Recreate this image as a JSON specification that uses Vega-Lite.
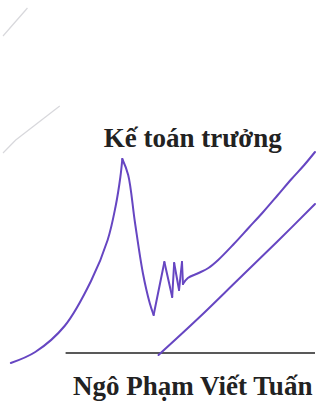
{
  "$schema": "https://vega.github.io/schema/vega-lite/v6.json",
  "autosize": {"type": "fit", "contains": "padding"},
  "width": 319,
  "height": 405,
  "padding": 0,
  "background": "#ffffff",
  "config": {"view": {"stroke": null}},
  "layer": [
    {
      "data": {"values": [
        {"s": "f1", "i": 0, "x": 0, "y": 36},
        {"s": "f1", "i": 1, "x": 25, "y": 8},
        {"s": "f2", "i": 0, "x": 0, "y": 153},
        {"s": "f2", "i": 1, "x": 13, "y": 140},
        {"s": "f2", "i": 2, "x": 58, "y": 106}
      ]},
      "mark": {"type": "line", "color": "#d8d8dc", "strokeWidth": 1.2},
      "encoding": {
        "x": {"field": "x", "type": "quantitative", "scale": {"domain": [0, 319], "nice": false, "zero": false}, "axis": null},
        "y": {"field": "y", "type": "quantitative", "scale": {"domain": [0, 405], "nice": false, "zero": false, "reverse": true}, "axis": null},
        "detail": {"field": "s"},
        "order": {"field": "i"}
      }
    },
    {
      "data": {"values": [
        {"i": 0, "x": 64, "y": 353},
        {"i": 1, "x": 319, "y": 353}
      ]},
      "mark": {"type": "line", "color": "#222222", "strokeWidth": 1.6},
      "encoding": {
        "x": {"field": "x", "type": "quantitative"},
        "y": {"field": "y", "type": "quantitative"},
        "order": {"field": "i"}
      }
    },
    {
      "data": {"values": [
        {"s": "a1", "i": 0, "x": 8, "y": 363},
        {"s": "a1", "i": 1, "x": 33, "y": 352},
        {"s": "a1", "i": 2, "x": 63, "y": 326},
        {"s": "a1", "i": 3, "x": 90, "y": 281},
        {"s": "a1", "i": 4, "x": 107, "y": 240},
        {"s": "a1", "i": 5, "x": 115, "y": 207},
        {"s": "a1", "i": 6, "x": 120, "y": 177},
        {"s": "a1", "i": 7, "x": 122, "y": 159},
        {"s": "a2", "i": 0, "x": 122, "y": 159},
        {"s": "a2", "i": 1, "x": 128, "y": 175},
        {"s": "a2", "i": 2, "x": 135, "y": 223},
        {"s": "a2", "i": 3, "x": 143, "y": 273},
        {"s": "a2", "i": 4, "x": 150, "y": 303},
        {"s": "a2", "i": 5, "x": 154, "y": 315},
        {"s": "z1", "i": 0, "x": 154, "y": 315},
        {"s": "z1", "i": 1, "x": 165, "y": 262},
        {"s": "z2", "i": 0, "x": 165, "y": 262},
        {"s": "z2", "i": 1, "x": 173, "y": 297},
        {"s": "z3", "i": 0, "x": 173, "y": 297},
        {"s": "z3", "i": 1, "x": 175, "y": 263},
        {"s": "z4", "i": 0, "x": 175, "y": 263},
        {"s": "z4", "i": 1, "x": 180, "y": 290},
        {"s": "z5", "i": 0, "x": 180, "y": 290},
        {"s": "z5", "i": 1, "x": 183, "y": 262},
        {"s": "z6", "i": 0, "x": 183, "y": 262},
        {"s": "z6", "i": 1, "x": 184, "y": 284},
        {"s": "a3", "i": 0, "x": 184, "y": 284},
        {"s": "a3", "i": 1, "x": 189, "y": 278},
        {"s": "a3", "i": 2, "x": 200, "y": 273},
        {"s": "a3", "i": 3, "x": 210, "y": 268},
        {"s": "a3", "i": 4, "x": 220, "y": 260},
        {"s": "a3", "i": 5, "x": 236, "y": 244},
        {"s": "a3", "i": 6, "x": 251, "y": 228},
        {"s": "a3", "i": 7, "x": 266, "y": 212},
        {"s": "a3", "i": 8, "x": 281, "y": 195},
        {"s": "a3", "i": 9, "x": 295, "y": 179},
        {"s": "a3", "i": 10, "x": 308, "y": 165},
        {"s": "a3", "i": 11, "x": 319, "y": 152},
        {"s": "b", "i": 0, "x": 159, "y": 355},
        {"s": "b", "i": 1, "x": 200, "y": 318},
        {"s": "b", "i": 2, "x": 240, "y": 280},
        {"s": "b", "i": 3, "x": 280, "y": 242},
        {"s": "b", "i": 4, "x": 319, "y": 204}
      ]},
      "mark": {"type": "line", "color": "#6646c2", "strokeWidth": 2, "interpolate": "catmull-rom", "strokeCap": "round", "strokeJoin": "round"},
      "encoding": {
        "x": {"field": "x", "type": "quantitative"},
        "y": {"field": "y", "type": "quantitative"},
        "detail": {"field": "s"},
        "order": {"field": "i"}
      }
    },
    {
      "data": {"values": [
        {"label": "Kế toán trưởng", "x": 194, "y": 147},
        {"label": "Ngô Phạm Viết Tuấn", "x": 194, "y": 395}
      ]},
      "mark": {"type": "text", "font": "Liberation Serif", "fontWeight": "bold", "fontSize": 27, "color": "#222222", "align": "center", "baseline": "alphabetic"},
      "encoding": {
        "x": {"field": "x", "type": "quantitative"},
        "y": {"field": "y", "type": "quantitative"},
        "text": {"field": "label"}
      }
    }
  ]
}
